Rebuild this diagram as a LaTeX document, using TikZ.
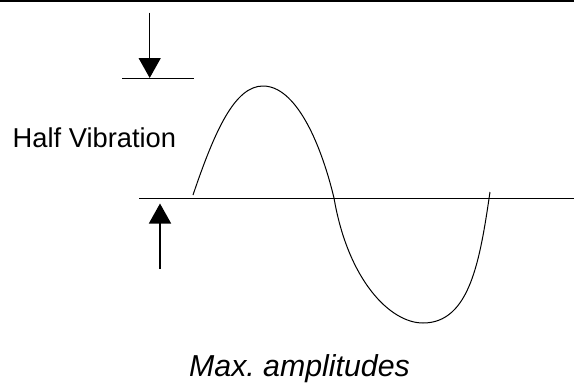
\documentclass[tikz,border=0pt]{standalone}
\usepackage{fontspec}
\setmainfont{Liberation Sans}
\usetikzlibrary{arrows.meta}
\begin{document}
\begin{tikzpicture}[x=1pt,y=-1pt,
  thinline/.style={line width=1pt},
  bigarrow/.style={line width=1.5pt,-{Triangle[length=20pt,width=22pt]}},
  lbl/.style={inner sep=0pt,font=\fontsize{27.3}{30}\selectfont}]
\useasboundingbox (0,0) rectangle (574,383);
% top rule
\coordinate (tl) at (0,1.2);
\coordinate (tr) at (574,1.2);
\draw[line width=1.6pt] (tl) -- (tr);
% max amplitude markers
\coordinate (mu1) at (122,78);
\coordinate (mu2) at (194,78);
\draw[thinline] (mu1) -- (mu2);
\coordinate (a1s) at (149.7,12.5);
\coordinate (a1e) at (149.7,78);
\draw[bigarrow] (a1s) -- (a1e);
% axis
\coordinate (ax1) at (139,198);
\coordinate (ax2) at (574,198);
\draw[thinline] (ax1) -- (ax2);
\coordinate (a2s) at (160,269);
\coordinate (a2e) at (160,203.5);
\draw[bigarrow] (a2s) -- (a2e);
% wave
\draw[thinline] (193,195) .. controls (215,130) and (235,86) .. (263,86)
  .. controls (295,86) and (320,140) .. (334,198)
  .. controls (348,280) and (390,323) .. (423,323)
  .. controls (470,323) and (480,260) .. (490,192);
% labels
\node[lbl,anchor=base west] (half) at (12.5,147) {Half Vibration};
\node[lbl,anchor=base,font=\fontsize{30.3}{33}\selectfont\itshape] (max) at (299.5,376) {Max.\ amplitudes};
\end{tikzpicture}
\end{document}
